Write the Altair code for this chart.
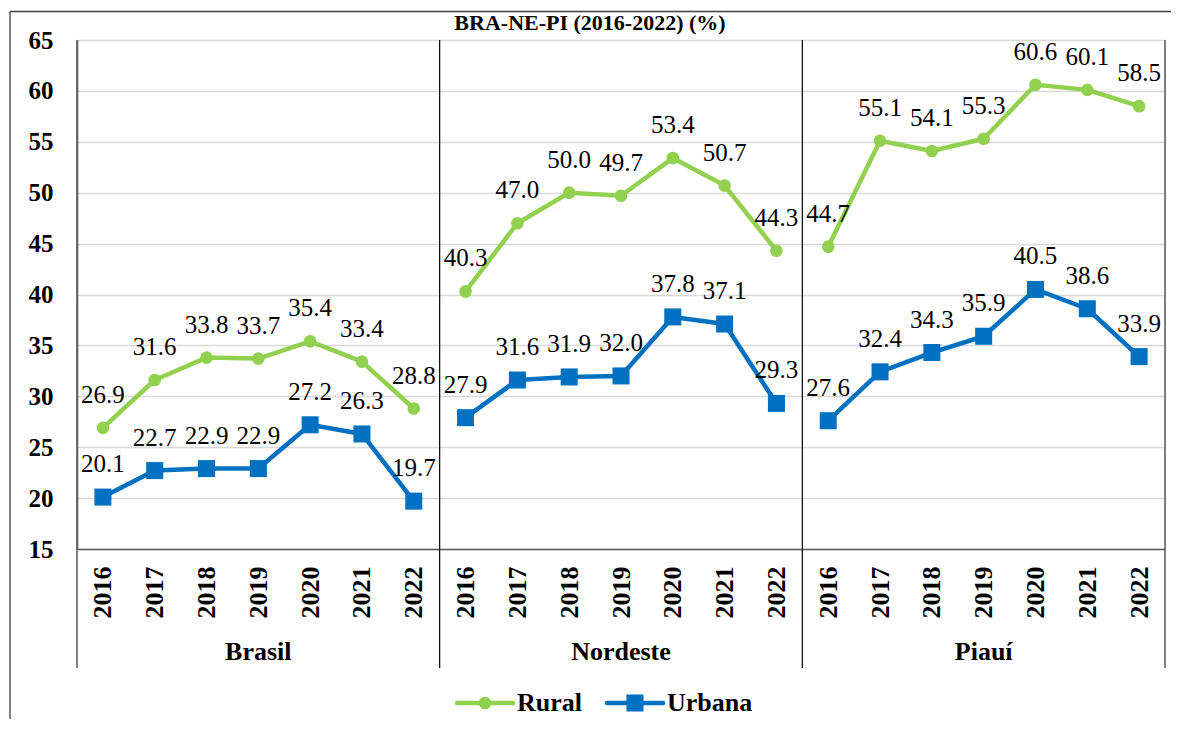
import json
import altair as alt
import pandas as pd

# ---------------- data ----------------
regions = ["Brasil", "Nordeste", "Piauí"]
years = ["2016", "2017", "2018", "2019", "2020", "2021", "2022"]
series_names = ["Rural", "Urbana"]

brasil_rural = [26.9, 31.6, 33.8, 33.7, 35.4, 33.4, 28.8]
brasil_urbana = [20.1, 22.7, 22.9, 22.9, 27.2, 26.3, 19.7]
nordeste_rural = [40.3, 47.0, 50.0, 49.7, 53.4, 50.7, 44.3]
nordeste_urbana = [27.9, 31.6, 31.9, 32.0, 37.8, 37.1, 29.3]
piaui_rural = [44.7, 55.1, 54.1, 55.3, 60.6, 60.1, 58.5]
piaui_urbana = [27.6, 32.4, 34.3, 35.9, 40.5, 38.6, 33.9]

title_text = "BRA-NE-PI (2016-2022) (%)"

values = {
    ("Brasil", "Rural"): brasil_rural,
    ("Brasil", "Urbana"): brasil_urbana,
    ("Nordeste", "Rural"): nordeste_rural,
    ("Nordeste", "Urbana"): nordeste_urbana,
    ("Piauí", "Rural"): piaui_rural,
    ("Piauí", "Urbana"): piaui_urbana,
}

ny = len(years)
rows = []
for ri, reg in enumerate(regions):
    for s in series_names:
        for yi, yr in enumerate(years):
            rows.append({"region": reg, "series": s, "year": yr,
                         "idx": ri * ny + yi, "value": values[(reg, s)][yi]})
df = pd.DataFrame(rows)

bounds = pd.DataFrame({"b": [ri * ny - 0.5 for ri in range(len(regions) + 1)]})
bounds["inner"] = [0 < i < len(regions) for i in range(len(regions) + 1)]
panels = pd.DataFrame({"region": regions,
                       "mid": [ri * ny + (ny - 1) / 2 for ri in range(len(regions))]})
one = pd.DataFrame({"t": [title_text]})
legend_df = pd.DataFrame({"series": series_names})

# ---------------- styling ----------------
FONT = "'Liberation Serif', 'Times New Roman', 'DejaVu Serif', serif"
GREEN = "#92d050"
BLUE = "#0070c0"
W, H = 1088, 509

color_scale = alt.Scale(domain=series_names, range=[GREEN, BLUE])
x_scale = alt.Scale(domain=[-0.5, len(regions) * ny - 0.5], nice=False, zero=False)
y_scale = alt.Scale(domain=[15, 65], nice=False, zero=False)

x_enc = alt.X(
    "idx:Q", scale=x_scale, title=None,
    axis=alt.Axis(
        values=list(range(len(regions) * ny)),
        labelExpr=f"{json.dumps(years)}[datum.value % {ny}]",
        labelAngle=-90, labelFont=FONT, labelFontSize=26, labelFontWeight="bold",
        labelColor="black", labelPadding=17, labelOverlap=False, labelBound=False,
        ticks=False, grid=False, domainColor="#595959", domainWidth=1.5,
    ),
)
y_enc = alt.Y(
    "value:Q", scale=y_scale, title=None,
    axis=alt.Axis(
        values=list(range(15, 70, 5)), labelFont=FONT, labelFontSize=25,
        labelFontWeight="bold", labelColor="black", labelPadding=24,
        ticks=False, grid=True, gridColor="#d9d9d9", gridWidth=1.5,
        domainColor="#595959", domainWidth=1.5,
    ),
)

base = alt.Chart(df)

lines = base.mark_line(strokeWidth=4.5, strokeCap="round", strokeJoin="round").encode(
    x=x_enc, y=y_enc,
    color=alt.Color("series:N", scale=color_scale, legend=None),
    detail="region:N",
)

pts_rural = base.transform_filter(alt.datum.series == "Rural").mark_point(
    shape="circle", filled=True, size=160, opacity=1).encode(
    x=alt.X("idx:Q", scale=x_scale), y=alt.Y("value:Q", scale=y_scale),
    color=alt.Color("series:N", scale=color_scale, legend=None))

pts_urb = base.transform_filter(alt.datum.series == "Urbana").mark_point(
    shape="square", filled=True, size=290, opacity=1).encode(
    x=alt.X("idx:Q", scale=x_scale), y=alt.Y("value:Q", scale=y_scale),
    color=alt.Color("series:N", scale=color_scale, legend=None))

labels = base.mark_text(font=FONT, fontSize=25, color="black", baseline="alphabetic",
                        dy=-25).encode(
    x=alt.X("idx:Q", scale=x_scale), y=alt.Y("value:Q", scale=y_scale),
    text=alt.Text("value:Q", format=".1f"))

seps = alt.Chart(bounds).mark_rule().encode(
    x=alt.X("b:Q", scale=x_scale),
    y=alt.value(0), y2=alt.value(628),
    color=alt.condition("datum.inner", alt.value("#000000"), alt.value("#595959")),
    strokeWidth=alt.condition("datum.inner", alt.value(1.2), alt.value(1.5)),
)

panel_labels = alt.Chart(panels).mark_text(
    font=FONT, fontSize=26, fontWeight="bold", color="black", baseline="middle").encode(
    x=alt.X("mid:Q", scale=x_scale), y=alt.value(612), text="region:N")

# title: in the reference it sits above the frame, mostly cut off; kept fully visible here
title = alt.Chart(one).mark_text(
    font=FONT, fontSize=22, fontWeight="bold", color="black", baseline="alphabetic").encode(
    x=alt.value(513), y=alt.value(-10), text="t:N")

border_top = alt.Chart(one).mark_rule(color="#404040", strokeWidth=1.5).encode(
    x=alt.value(-67), x2=alt.value(1094), y=alt.value(-28.5))
border_left = alt.Chart(one).mark_rule(color="#595959", strokeWidth=1.5).encode(
    x=alt.value(-67), y=alt.value(-28.5), y2=alt.value(690))

# manual legend (line + marker + label)
leg_layers = []
leg_pos = {"Rural": 380, "Urbana": 530}
leg_shape = {"Rural": ("circle", 160), "Urbana": ("square", 290)}
LY = 663
for s in series_names:
    x0 = leg_pos[s]
    d = alt.Chart(legend_df).transform_filter(alt.datum.series == s)
    leg_layers.append(d.mark_rule(strokeWidth=4.5, strokeCap="round").encode(
        x=alt.value(x0), x2=alt.value(x0 + 56), y=alt.value(LY),
        color=alt.Color("series:N", scale=color_scale, legend=None)))
    shp, sz = leg_shape[s]
    leg_layers.append(d.mark_point(shape=shp, filled=True, size=sz, opacity=1).encode(
        x=alt.value(x0 + 28), y=alt.value(LY),
        color=alt.Color("series:N", scale=color_scale, legend=None)))
    leg_layers.append(d.mark_text(font=FONT, fontSize=26, fontWeight="bold", color="black",
                                  align="left", baseline="middle").encode(
        x=alt.value(x0 + 60), y=alt.value(LY), text="series:N"))

chart = alt.layer(
    seps, lines, pts_rural, pts_urb, labels, panel_labels, title,
    border_top, border_left, *leg_layers
).properties(
    width=W, height=H,
    autosize=alt.AutoSizeParams(type="none"),
    padding={"left": 69, "top": 32, "right": 6, "bottom": 170},
).configure_view(stroke=None).configure(background="white")

chart.save("out.html", embed_options={"renderer": "svg", "actions": False})
